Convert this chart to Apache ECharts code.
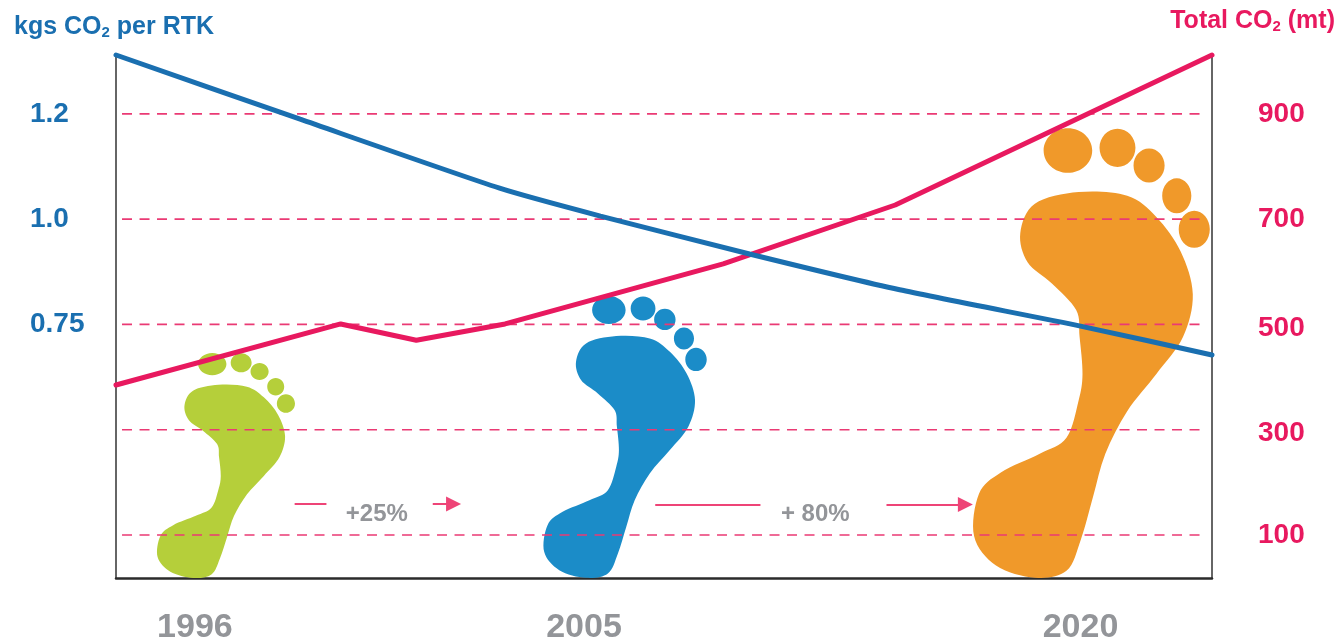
<!DOCTYPE html>
<html><head><meta charset="utf-8">
<style>html,body{margin:0;padding:0;background:#fff}#c{width:1340px;height:642px}</style>
<script src="https://cdn.jsdelivr.net/npm/echarts@6/dist/echarts.min.js"></script>
</head><body><div id="c"></div>
<script>
// x is position along the (non-linear) time axis, in percent of its length
const yearLabels = ['1996', '2005', '2020'];
const yearPositions = [7.2, 42.7, 88.0];
const redX = [0, 20.5, 27.4, 35.5, 55.4, 71.1, 100];
const redValues = [385, 501, 470, 501, 615, 727, 1012];
const blueX = [0, 16.8, 35, 44.2, 57.8, 71.5, 88, 100];
const blueValues = [1.312, 1.19, 1.059, 1.006, 0.934, 0.866, 0.797, 0.742];
const rightTicks = [100, 300, 500, 700, 900];
const leftTickPositions = [0.8, 1.0, 1.2];
const leftTickLabels = ['0.75', '1.0', '1.2'];
const footColors = ['#b5cf3a', '#1b8cc8', '#f0992a'];
const footFrom = [3.74, 39.0, 78.2];
const footTo = [16.33, 53.9, 99.8];
const footTop = [446, 554, 873];

const BLUE = '#1a6fb0', RED = '#e8195f', GREY = '#939599';
const Y_MIN = 18.3;

const solePts = [[170,245],[200,190],[290,168],[390,175],[450,215],[500,280],[525,360],[505,440],[450,510],[390,580],[345,660],[320,740],[295,820],[265,880],[200,893],[120,870],[75,815],[85,735],[130,695],[210,660],[265,630],[290,560],[298,510],[292,440],[285,390],[235,340],[185,300]];
const toes = [[268,90,50,42],[370,85,37,36],[435,118,32,32],[492,175,30,33],[528,238,32,35]];
function closedSpline(p){
  const n=p.length; let d='M'+p[0][0]+' '+p[0][1];
  for(let i=0;i<n;i++){
    const a=p[(i-1+n)%n],b=p[i],c=p[(i+1)%n],e=p[(i+2)%n];
    d+=' C'+(b[0]+(c[0]-a[0])/6)+' '+(b[1]+(c[1]-a[1])/6)+' '+(c[0]-(e[0]-b[0])/6)+' '+(c[1]-(e[1]-b[1])/6)+' '+c[0]+' '+c[1];
  }
  return d+' Z';
}
function toePath(t){
  const k=.5523,[x,y,a,b]=t;
  return 'M'+(x-a)+' '+y+' C'+(x-a)+' '+(y-k*b)+' '+(x-k*a)+' '+(y-b)+' '+x+' '+(y-b)+' C'+(x+k*a)+' '+(y-b)+' '+(x+a)+' '+(y-k*b)+' '+(x+a)+' '+y+' C'+(x+a)+' '+(y+k*b)+' '+(x+k*a)+' '+(y+b)+' '+x+' '+(y+b)+' C'+(x-k*a)+' '+(y+b)+' '+(x-a)+' '+(y+k*b)+' '+(x-a)+' '+y+' Z';
}
const footPath = closedSpline(solePts)+' '+toes.map(toePath).join(' ');

const zip=(a,b)=>a.map((v,i)=>[v,b[i]]);
const dashSeries = rightTicks.map(v=>({
  type:'line', xAxisIndex:0, yAxisIndex:1, z:2, symbol:'none', silent:true,
  data:[[0.55,v],[99.4,v]],
  lineStyle:{color:'#ea3a74',width:1.7,type:[10,7.5]}
}));
function arrow(x1,x2,y,head){
  return [{coord:[x1,y],symbol:'none'},{coord:[x2,y],symbol:head?'triangle':'none',symbolSize:[15,15],symbolRotate:-90}];
}
const subStyle=c=>({s:{fontSize:15,fontWeight:'bold',color:c,fontFamily:'Liberation Sans',verticalAlign:'bottom',padding:[10,0,0,0]}});
const rightLabelStyle={color:RED,fontFamily:'Liberation Sans',fontWeight:'bold',fontSize:28};

const chart = echarts.init(document.getElementById('c'),null,{renderer:'canvas'});
chart.setOption({
  animation:false,
  backgroundColor:'#fff',
  title:[
    {left:9,top:10,text:'kgs CO{s|2} per RTK',textStyle:{color:BLUE,fontFamily:'Liberation Sans',fontWeight:'bold',fontSize:25,rich:subStyle(BLUE)}},
    {right:0,top:4,text:'Total CO{s|2} (mt)',textStyle:{color:RED,fontFamily:'Liberation Sans',fontWeight:'bold',fontSize:25,rich:subStyle(RED)}}
  ],
  grid:{left:116,right:128,top:55,bottom:64,containLabel:false,outerBoundsMode:'none'},
  xAxis:{type:'value',min:0,max:100,splitLine:{show:false},
    axisLine:{show:true,onZero:false,lineStyle:{color:'#2b2b2b',width:2.5}},
    axisTick:{show:false},
    axisLabel:{customValues:yearPositions,margin:33,color:GREY,fontFamily:'Liberation Sans',fontWeight:'bold',fontSize:34,
      formatter:v=>yearLabels[yearPositions.indexOf(v)]}
  },
  yAxis:[
    {type:'value',position:'left',min:0.3184,max:1.312,splitLine:{show:false},
     axisLine:{show:true,lineStyle:{color:'#333',width:1.5}},axisTick:{show:false},
     axisLabel:{customValues:leftTickPositions,margin:86,align:'left',color:BLUE,fontFamily:'Liberation Sans',fontWeight:'bold',fontSize:28,
       formatter:v=>leftTickLabels[leftTickPositions.indexOf(v)]}},
    {type:'value',position:'right',min:Y_MIN,max:1012,splitLine:{show:false},
     axisLine:{show:true,lineStyle:{color:'#333',width:1.5}},axisTick:{show:false},
     axisLabel:{customValues:rightTicks,margin:46,align:'left',...rightLabelStyle,
       formatter:v=>(v===300||v===500)?'{low|'+v+'}':String(v),
       rich:{low:{...rightLabelStyle,padding:[8,0,0,0]}}}}
  ],
  series:[
    {type:'custom',xAxisIndex:0,yAxisIndex:1,z:1,silent:true,clip:false,
     encode:{x:[0,1],y:2},
     data:footFrom.map((f,i)=>[f,footTo[i],footTop[i],i]),
     renderItem:(params,api)=>{
       const a=api.coord([api.value(0),api.value(2)]);
       const b=api.coord([api.value(1),Y_MIN]);
       return {type:'path',shape:{pathData:footPath,layout:'cover',x:a[0],y:a[1],width:b[0]-a[0],height:b[1]-a[1]},
         style:{fill:footColors[api.value(3)]}};
     }},
    ...dashSeries,
    {type:'line',xAxisIndex:0,yAxisIndex:1,z:4,symbol:'none',clip:false,silent:true,
     data:zip(redX,redValues),lineStyle:{color:RED,width:5,cap:'round'}},
    {type:'line',xAxisIndex:0,yAxisIndex:0,z:5,symbol:'none',clip:false,silent:true,smooth:0.2,
     data:zip(blueX,blueValues),lineStyle:{color:BLUE,width:5,cap:'round'}},
    {type:'scatter',xAxisIndex:0,yAxisIndex:1,z:6,symbolSize:0,silent:true,itemStyle:{opacity:1},
     data:[{value:[23.8,140],name:'+25%'},{value:[63.8,140],name:'+ 80%'}],
     label:{show:true,position:'inside',formatter:p=>p.name,color:GREY,opacity:1,fontFamily:'Liberation Sans',fontWeight:'bold',fontSize:24,textBorderWidth:0},
     markLine:{silent:true,animation:false,label:{show:false},lineStyle:{color:'#ee4477',width:2,type:'solid',opacity:1},
       data:[arrow(16.3,19.2,159,false),arrow(28.9,30.8,159,true),arrow(49.2,58.8,158,false),arrow(70.3,77.5,158,true)]}}
  ]
});
</script></body></html>
